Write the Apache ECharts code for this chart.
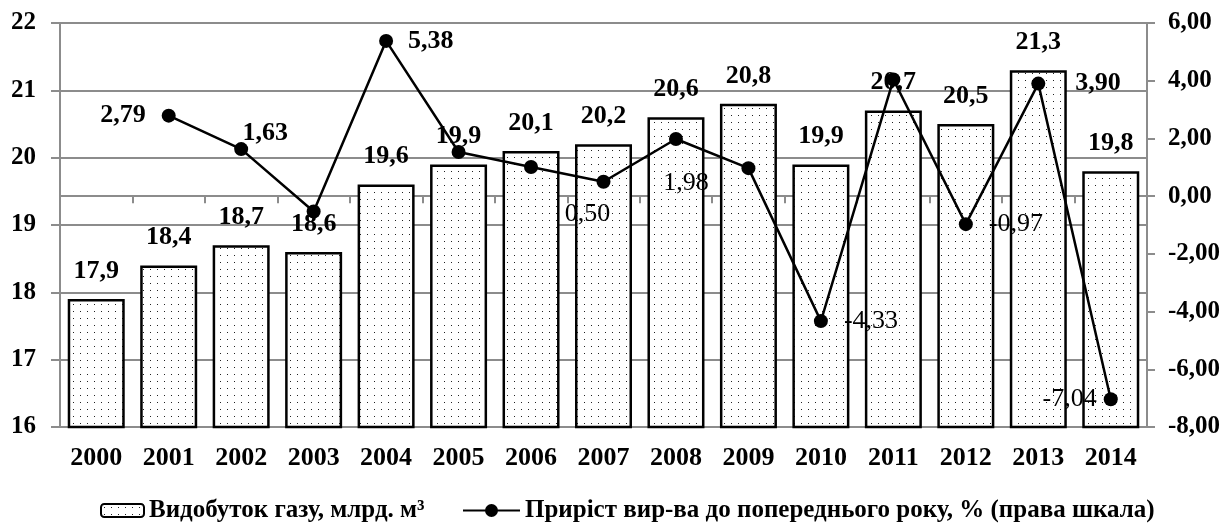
<!DOCTYPE html>
<html>
<head>
<meta charset="utf-8">
<script src="https://cdn.jsdelivr.net/npm/echarts@6/dist/echarts.min.js"></script>
<style>
html,body{margin:0;padding:0;background:#fff;}
#chart{width:1227px;height:526px;}
</style>
</head>
<body>
<div id="chart"></div>
<script>
// ---- data ----
var years = ['2000','2001','2002','2003','2004','2005','2006','2007','2008','2009','2010','2011','2012','2013','2014'];
var gasOutput = [17.9, 18.4, 18.7, 18.6, 19.6, 19.9, 20.1, 20.2, 20.6, 20.8, 19.9, 20.7, 20.5, 21.3, 19.8];
var growthPct = [null, 2.79, 1.63, -0.53, 5.38, 1.53, 1.01, 0.50, 1.98, 0.97, -4.33, 4.04, -0.97, 3.90, -7.04];
var leftTicks = [16, 17, 18, 19, 20, 21, 22];
var rightTicks = [-8, -6, -4, -2, 0, 2, 4, 6];
var barName = 'Видобуток газу, млрд. м³';
var lineName = 'Приріст вир-ва до попереднього року, % (права шкала)';

// ---- styling ----
var FONT = '"Liberation Serif", "Times New Roman", serif';
var GRAY = '#8c8c8c';

function dotPattern() {
  var c = document.createElement('canvas');
  c.width = 7; c.height = 7;
  var ctx = c.getContext('2d');
  ctx.fillStyle = '#ffffff';
  ctx.fillRect(0, 0, 7, 7);
  ctx.fillStyle = '#222222';
  ctx.fillRect(3, 3, 1, 1);
  return c;
}
var pattern = { image: dotPattern(), repeat: 'repeat' };

function fmt(v, d) { return v.toFixed(d).replace('.', ','); }

// label placement for the line points (by year)
var lineLabelStyle = {
  '2001': { position: 'left', distance: 16, fontWeight: 'bold' },
  '2002': { position: 'top', distance: 0, offset: [24, 4], fontWeight: 'bold' },
  '2004': { position: 'right', distance: 15, fontWeight: 'bold' },
  '2007': { position: 'bottom', distance: 12, offset: [-16, 0], fontWeight: 'normal' },
  '2008': { position: 'bottom', distance: 24, offset: [10, 0], fontWeight: 'normal' },
  '2010': { position: 'right', distance: 16, fontWeight: 'normal' },
  '2012': { position: 'right', distance: 16, fontWeight: 'normal' },
  '2013': { position: 'right', distance: 30, fontWeight: 'bold' },
  '2014': { position: 'left', distance: 7, fontWeight: 'normal' }
};

var lineData = growthPct.map(function (v, i) {
  if (v === null) return null;
  var s = lineLabelStyle[years[i]];
  var item = { value: v };
  if (s) {
    item.label = {
      show: true,
      position: s.position,
      distance: s.distance,
      offset: s.offset || [0, 0],
      fontWeight: s.fontWeight,
      fontFamily: FONT,
      fontSize: 26,
      color: '#000',
      formatter: function (p) { return fmt(p.value, 2); }
    };
  } else {
    item.label = { show: false };
  }
  return item;
});

var lineIcon = 'path://M0,5.5L57,5.5L57,7.5L0,7.5Z M22,6.5A6.5,6.5 0 1,1 35,6.5A6.5,6.5 0 1,1 22,6.5Z M0,0L0.01,0Z M0,13L0.01,13Z';

var chart = echarts.init(document.getElementById('chart'), null, { renderer: 'canvas' });

var option = {
  animation: false,
  backgroundColor: '#ffffff',
  grid: { left: 60, right: 80, top: 23, bottom: 99, containLabel: false },
  legend: [
    {
      data: [barName],
      left: 100, top: 498, padding: 0,
      itemWidth: 43, itemHeight: 13,
      textStyle: { fontFamily: FONT, fontSize: 25, fontWeight: 'bold', color: '#000' }
    },
    {
      data: [{ name: lineName, icon: lineIcon, itemStyle: { color: '#000' } }],
      left: 463, top: 498, padding: 0,
      itemWidth: 57, itemHeight: 13,
      textStyle: { fontFamily: FONT, fontSize: 25, fontWeight: 'bold', color: '#000' }
    }
  ],
  xAxis: {
    type: 'category',
    data: years,
    boundaryGap: true,
    axisLine: { show: true, lineStyle: { color: GRAY, width: 2 } },
    axisTick: { show: true, alignWithLabel: false, length: 7, lineStyle: { color: GRAY, width: 2 } },
    axisLabel: { margin: 18, fontFamily: FONT, fontSize: 26, fontWeight: 'bold', color: '#000' },
    splitLine: { show: false }
  },
  yAxis: [
    {
      type: 'value',
      position: 'left',
      min: leftTicks[0], max: leftTicks[leftTicks.length - 1], interval: 1,
      axisLine: { show: true, lineStyle: { color: GRAY, width: 2 } },
      axisTick: { show: true, length: 9, lineStyle: { color: GRAY, width: 2 } },
      axisLabel: { margin: 24, fontFamily: FONT, fontSize: 25, fontWeight: 'bold', color: '#000' },
      splitLine: { show: true, lineStyle: { color: GRAY, width: 2 } }
    },
    {
      type: 'value',
      position: 'right',
      min: rightTicks[0], max: rightTicks[rightTicks.length - 1], interval: 2,
      axisLine: { show: true, lineStyle: { color: GRAY, width: 2 } },
      axisTick: { show: true, length: 8, lineStyle: { color: GRAY, width: 2 } },
      axisLabel: {
        margin: 21, fontFamily: FONT, fontSize: 25, fontWeight: 'bold', color: '#000',
        formatter: function (v) { return fmt(v, 2); }
      },
      splitLine: { show: false }
    }
  ],
  series: [
    {
      name: barName,
      type: 'bar',
      yAxisIndex: 0,
      data: gasOutput,
      barWidth: 57,
      itemStyle: { color: pattern, borderColor: '#000', borderWidth: 2.5 },
      label: {
        show: true, position: 'top', distance: 15,
        fontFamily: FONT, fontSize: 26, fontWeight: 'bold', color: '#000',
        formatter: function (p) { return fmt(p.value, 1); }
      },
      z: 2
    },
    {
      name: lineName,
      type: 'line',
      yAxisIndex: 1,
      data: lineData,
      symbol: 'circle',
      symbolSize: 14,
      lineStyle: { color: '#000', width: 2.5 },
      itemStyle: { color: '#000' },
      z: 3
    }
  ]
};
chart.setOption(option);
</script>
</body>
</html>
